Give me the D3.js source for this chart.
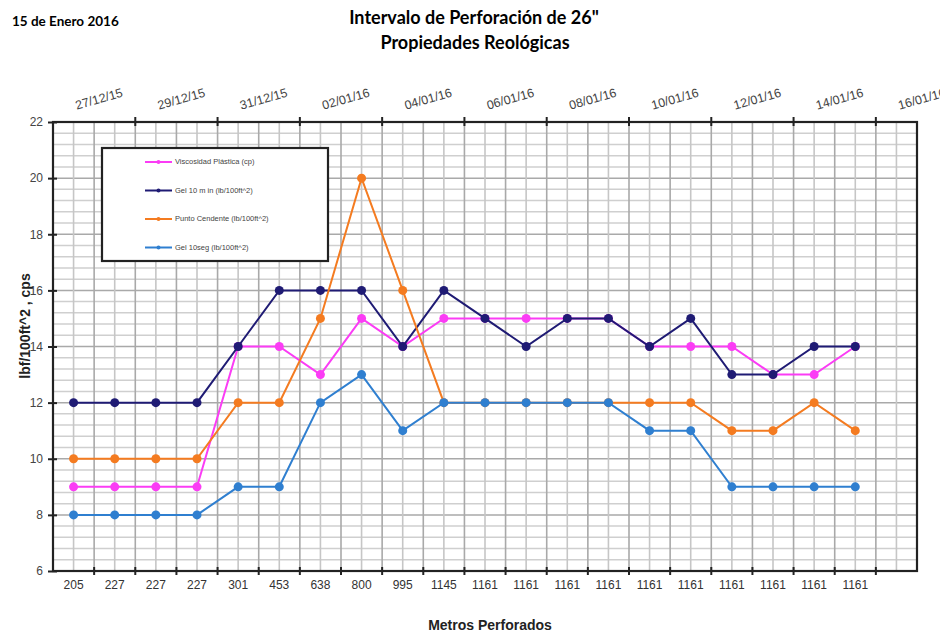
<!DOCTYPE html>
<html>
<head>
<meta charset="utf-8">
<script src="https://cdn.jsdelivr.net/npm/d3@7"></script>
<style>
  body { margin: 0; background: #fff; }
  text { font-family: "Liberation Sans Narrow", "Arial Narrow", "Liberation Sans", Arial, sans-serif; }
  .ttl { font-family: Lato, "Open Sans", sans-serif; font-weight: bold; }
</style>
</head>
<body>
<div class="chart"></div>
<script>
var svgWidth = 940;
var svgHeight = 634;

// data
var metros = ["205", "227", "227", "227", "301", "453", "638", "800", "995", "1145",
  "1161", "1161", "1161", "1161", "1161", "1161", "1161", "1161", "1161", "1161"];
var fechas = ["27/12/15", "29/12/15", "31/12/15", "02/01/16", "04/01/16", "06/01/16",
  "08/01/16", "10/01/16", "12/01/16", "14/01/16", "16/01/16"];
var yTicks = [6, 8, 10, 12, 14, 16, 18, 20, 22];

var viscosidad = [9, 9, 9, 9, 14, 14, 13, 15, 14, 15, 15, 15, 15, 15, 14, 14, 14, 13, 13, 14];
var gel10min = [12, 12, 12, 12, 14, 16, 16, 16, 14, 16, 15, 14, 15, 15, 14, 15, 13, 13, 14, 14];
var puntoCedente = [10, 10, 10, 10, 12, 12, 15, 20, 16, 12, 12, 12, 12, 12, 12, 12, 11, 11, 12, 11];
var gel10seg = [8, 8, 8, 8, 9, 9, 12, 13, 11, 12, 12, 12, 12, 12, 11, 11, 9, 9, 9, 9];

var series = [
  { name: "Viscosidad Plástica (cp)", values: viscosidad, color: "#fb3cf5" },
  { name: "Gel 10 m in (lb/100ft^2)", values: gel10min, color: "#1f1b74" },
  { name: "Punto Cendente (lb/100ft^2)", values: puntoCedente, color: "#f47b20" },
  { name: "Gel 10seg (lb/100ft^2)", values: gel10seg, color: "#2f7fd0" }
];

var plot = { left: 53, right: 917, top: 122, bottom: 571 };
var nSlots = 21;

var svg = d3.select(".chart")
  .append("svg")
  .attr("width", svgWidth)
  .attr("height", svgHeight);

var xBand = d3.scaleBand()
  .domain(d3.range(nSlots))
  .range([plot.left, plot.right]);
var bw = xBand.bandwidth();
var xPos = i => xBand(i) + bw / 2;

// top date axis: one slot per day
var xTop = d3.scaleLinear()
  .domain([0, nSlots])
  .range([plot.left, plot.right]);

var y = d3.scaleLinear()
  .domain([6, 22])
  .range([plot.bottom, plot.top]);

// grid
var grid = svg.append("g");
grid.selectAll(".hg")
  .data(d3.range(6, 22.001, 0.4))
  .enter()
  .append("line")
  .attr("x1", plot.left).attr("x2", plot.right)
  .attr("y1", d => y(d)).attr("y2", d => y(d))
  .attr("stroke", d => Math.abs(d - Math.round(d)) < 0.01 && Math.round(d) % 2 == 0 ? "#a9a9a9" : "#cfcfcf")
  .attr("stroke-width", 1.5);

grid.selectAll(".vg")
  .data(d3.range(1, nSlots * 2))
  .enter()
  .append("line")
  .attr("x1", d => xTop(d / 2)).attr("x2", d => xTop(d / 2))
  .attr("y1", plot.top).attr("y2", plot.bottom)
  .attr("stroke", d => d % 2 == 0 ? "#a9a9a9" : "#c6c6c6")
  .attr("stroke-width", 1.6);

// frame
svg.append("rect")
  .attr("x", plot.left).attr("y", plot.top)
  .attr("width", plot.right - plot.left)
  .attr("height", plot.bottom - plot.top)
  .attr("fill", "none")
  .attr("stroke", "#222")
  .attr("stroke-width", 2.2);

// y axis
var leftAxis = d3.axisLeft(y).tickValues(yTicks).tickSizeInner(5).tickSizeOuter(0).tickPadding(5);
var yAx = svg.append("g")
  .attr("transform", `translate(${plot.left}, 0)`)
  .call(leftAxis);
yAx.select(".domain").remove();
yAx.selectAll(".tick line").attr("stroke", "#222").attr("stroke-width", 2).attr("x2", 4).attr("x1", -5);
yAx.selectAll(".tick text").attr("font-size", "12px").attr("fill", "#444");

// bottom axis
var bottomAxis = d3.axisBottom(xBand).tickFormat(i => metros[i] || "").tickSize(0).tickPadding(9);
var xAx = svg.append("g")
  .attr("transform", `translate(0, ${plot.bottom})`)
  .call(bottomAxis);
xAx.select(".domain").remove();
xAx.selectAll(".tick text").attr("font-size", "12px").attr("fill", "#333");
xAx.selectAll(".bt")
  .data(d3.range(1, nSlots))
  .enter()
  .append("line")
  .attr("x1", d => xBand(d)).attr("x2", d => xBand(d))
  .attr("y1", -4).attr("y2", 4)
  .attr("stroke", "#222").attr("stroke-width", 2);

// top axis
var topG = svg.append("g");
topG.selectAll(".tt")
  .data(d3.range(2, nSlots, 2))
  .enter()
  .append("line")
  .attr("x1", d => xTop(d)).attr("x2", d => xTop(d))
  .attr("y1", plot.top - 5).attr("y2", plot.top + 4)
  .attr("stroke", "#222").attr("stroke-width", 2);
topG.selectAll(".tl")
  .data(fechas)
  .enter()
  .append("text")
  .attr("transform", (d, i) => `translate(${xTop(i * 2 + 1) + 6}, ${plot.top - 19}) rotate(-16)`)
  .attr("text-anchor", "middle")
  .attr("font-size", "12.5px")
  .attr("fill", "#444")
  .text(d => d);

// lines and points
var line = d3.line()
  .x((d, i) => xPos(i))
  .y(d => y(d));

series.forEach(function(s) {
  var g = svg.append("g");
  g.append("path")
    .datum(s.values)
    .attr("d", line)
    .attr("fill", "none")
    .attr("stroke", s.color)
    .attr("stroke-width", 2);
  g.selectAll("circle")
    .data(s.values)
    .enter()
    .append("circle")
    .attr("cx", (d, i) => xPos(i))
    .attr("cy", d => y(d))
    .attr("r", 4.5)
    .attr("fill", s.color);
});

// legend
var leg = svg.append("g").attr("transform", "translate(102, 148)");
leg.append("rect")
  .attr("width", 226).attr("height", 113)
  .attr("fill", "#fff")
  .attr("stroke", "#222")
  .attr("stroke-width", 2.2);
var items = leg.selectAll(".li")
  .data(series)
  .enter()
  .append("g")
  .attr("transform", (d, i) => `translate(0, ${14 + i * 28.5})`);
items.append("line")
  .attr("x1", 43).attr("x2", 70)
  .attr("stroke", d => d.color).attr("stroke-width", 2);
items.append("circle")
  .attr("cx", 56.5).attr("r", 2)
  .attr("fill", d => d.color);
items.append("text")
  .attr("x", 73).attr("dy", "0.33em")
  .attr("font-size", "7.5px")
  .attr("fill", "#444")
  .style("font-family", "Liberation Sans, Arial, sans-serif")
  .text(d => d.name);

// titles
svg.append("text")
  .attr("class", "ttl")
  .attr("x", 12).attr("y", 26)
  .attr("font-size", "13.5px")
  .text("15 de Enero  2016");

svg.append("text")
  .attr("class", "ttl")
  .attr("x", 474).attr("y", 24)
  .attr("text-anchor", "middle")
  .attr("font-size", "18px")
  .text("Intervalo de Perforación de 26\"");

svg.append("text")
  .attr("class", "ttl")
  .attr("x", 475).attr("y", 49)
  .attr("text-anchor", "middle")
  .attr("font-size", "18px")
  .text("Propiedades Reológicas");

svg.append("text")
  .attr("x", 490).attr("y", 630)
  .attr("text-anchor", "middle")
  .attr("font-size", "14px")
  .attr("font-weight", "bold")
  .attr("fill", "#222")
  .text("Metros Perforados");

svg.append("text")
  .attr("transform", "translate(30, 326) rotate(-90)")
  .attr("text-anchor", "middle")
  .attr("font-size", "14px")
  .attr("font-weight", "bold")
  .attr("fill", "#222")
  .text("lbf/100ft^2 , cps");
</script>
</body>
</html>
